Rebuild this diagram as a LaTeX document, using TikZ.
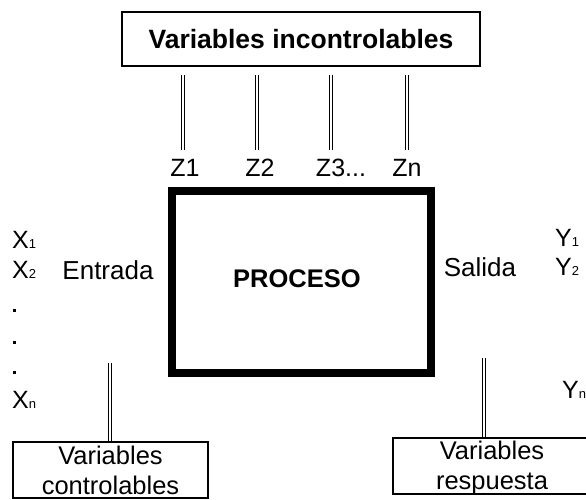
\documentclass[tikz,border=0pt]{standalone}
\usepackage{fontspec}
\setmainfont{Liberation Sans}
\newcommand\subidx[1]{{\fontsize{13}{13}\selectfont #1}}
\begin{document}
\begin{tikzpicture}[x=1pt,y=-1pt,
  lbl/.style={inner sep=0pt, font=\fontsize{25}{30}\selectfont},
  blbl/.style={inner sep=0pt, font=\fontsize{25.5}{30}\selectfont\bfseries},
  thinbox/.style={draw, line width=1.6pt, inner sep=0pt, align=center, font=\fontsize{25.5}{30}\selectfont},
  dbl/.style={double, double distance=2.2pt, line width=0.9pt},
  dotmark/.style={fill, inner sep=0pt, minimum size=3pt},
]
\clip (0,0) rectangle (586,499);
\fill[white] (0,0) rectangle (586,499);
% top box
\node[thinbox, minimum width=358pt, minimum height=54pt, font=\fontsize{26.5}{30}\selectfont\bfseries] (top) at (301,39) {Variables incontrolables};
% process box
\node[draw, line width=8pt, minimum width=259pt, minimum height=182pt, inner sep=0pt] (proc) at (301.5,282) {};
\node[blbl] (proctxt) at (297,279) {PROCESO};
% Z labels
\node[lbl] (z1) at (185,168) {Z1};
\node[lbl] (z2) at (260,168) {Z2};
\node[lbl] (z3) at (341,168) {Z3...};
\node[lbl] (zn) at (407,168) {Zn};
\coordinate (a1) at (183,75);  \coordinate (b1) at (183,150);
\coordinate (a2) at (257,75);  \coordinate (b2) at (257,150);
\coordinate (a3) at (331,75);  \coordinate (b3) at (331,150);
\coordinate (a4) at (407,75);  \coordinate (b4) at (407,150);
\draw[dbl] (a1) -- (b1);
\draw[dbl] (a2) -- (b2);
\draw[dbl] (a3) -- (b3);
\draw[dbl] (a4) -- (b4);
% left side
\node[lbl, anchor=west] (x1) at (12,240) {X\subidx{1}};
\node[lbl, anchor=west] (x2) at (12,270) {X\subidx{2}};
\node[dotmark] (d1) at (14,310) {};
\node[dotmark] (d2) at (14,342) {};
\node[dotmark] (d3) at (14,372) {};
\node[lbl, anchor=west] (xn) at (12,400) {X\subidx{n}};
\node[lbl, font=\fontsize{26}{30}\selectfont] (entrada) at (108,270) {Entrada};
\node[thinbox, minimum width=195pt, minimum height=56pt] (ctrl) at (110.5,470) {Variables\\controlables};
\coordinate (c1) at (110,363);
\draw[dbl] (c1) -- (c1 |- ctrl.north);
% right side
\node[lbl, font=\fontsize{26}{30}\selectfont] (salida) at (480,267) {Salida};
\node[lbl, anchor=west] (y1) at (555,238) {Y\subidx{1}};
\node[lbl, anchor=west] (y2) at (555,267) {Y\subidx{2}};
\node[lbl, anchor=west] (yn) at (562,390) {Y\subidx{n}};
\node[draw, line width=1.6pt, inner sep=0pt, minimum width=210pt, minimum height=56pt] (resp) at (498,466) {};
\node[lbl, align=center, font=\fontsize{25.5}{30}\selectfont] (resptxt) at (492,468) {Variables\\respuesta};
\coordinate (r1) at (484,358);
\draw[dbl] (r1) -- (r1 |- resp.north);
\end{tikzpicture}
\end{document}
